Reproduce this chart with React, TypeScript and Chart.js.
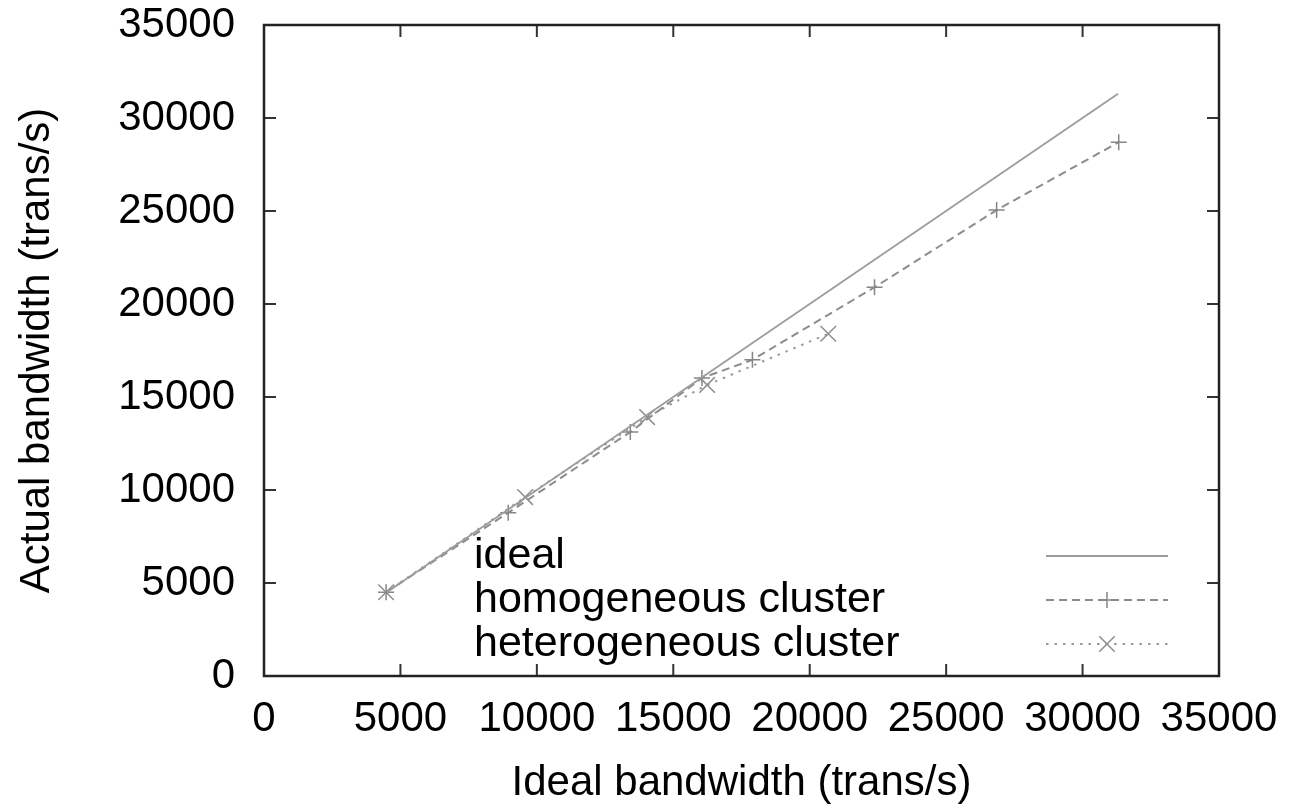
import React, { useEffect, useRef } from 'react';
import { Chart, registerables } from 'chart.js';

Chart.register(...registerables);

// ---- data ----
const idealX = [4500, 31300];
const idealY = [4500, 31300];
const homogeneousX = [4475, 8950, 13425, 16050, 17900, 22375, 26850, 31325];
const homogeneousY = [4500, 8780, 13120, 16020, 17000, 20900, 25050, 28700];
const heterogeneousX = [4475, 9570, 14040, 16240, 20680];
const heterogeneousY = [4500, 9620, 13920, 15650, 18400];
const seriesLabels = ['ideal', 'homogeneous cluster', 'heterogeneous cluster'];
const xTitle = 'Ideal bandwidth (trans/s)';
const yTitle = 'Actual bandwidth (trans/s)';
const axisMin = 0;
const axisMax = 35000;
const axisStep = 5000;

const FONT = '"Liberation Sans", Arial, Helvetica, sans-serif';

const toPoints = (xs: number[], ys: number[]) => xs.map((x, i) => ({ x, y: ys[i] }));

const framePlugin = {
  id: 'gnuFrame',
  afterDraw(chart: any) {
    const { ctx, chartArea: a, scales } = chart;
    const L = 12;
    ctx.save();
    ctx.strokeStyle = '#333';
    ctx.lineWidth = 2;
    ctx.beginPath();
    const xs = scales.x;
    const ys = scales.y;
    xs.ticks.forEach((t: any) => {
      if (t.value <= xs.min || t.value >= xs.max) return;
      const px = xs.getPixelForValue(t.value);
      ctx.moveTo(px, a.bottom);
      ctx.lineTo(px, a.bottom - L);
      ctx.moveTo(px, a.top);
      ctx.lineTo(px, a.top + L);
    });
    ys.ticks.forEach((t: any) => {
      if (t.value <= ys.min || t.value >= ys.max) return;
      const py = ys.getPixelForValue(t.value);
      ctx.moveTo(a.left, py);
      ctx.lineTo(a.left + L, py);
      ctx.moveTo(a.right, py);
      ctx.lineTo(a.right - L, py);
    });
    ctx.stroke();
    ctx.strokeStyle = '#222';
    ctx.lineWidth = 2.5;
    ctx.strokeRect(a.left, a.top, a.right - a.left, a.bottom - a.top);
    ctx.restore();
  },
};

const legendPlugin = {
  id: 'gnuLegend',
  afterDraw(chart: any, _args: any, opts: any) {
    const { ctx } = chart;
    ctx.save();
    chart.data.datasets.forEach((ds: any, i: number) => {
      const y = opts.y0 + i * opts.dy;
      ctx.font = `43px ${FONT}`;
      ctx.fillStyle = '#000';
      ctx.textBaseline = 'middle';
      ctx.textAlign = 'left';
      ctx.fillText(ds.label, opts.textX, y);
      ctx.strokeStyle = ds.borderColor;
      ctx.lineWidth = ds.borderWidth;
      ctx.setLineDash(ds.borderDash || []);
      ctx.beginPath();
      ctx.moveTo(opts.lineX0, y);
      ctx.lineTo(opts.lineX1, y);
      ctx.stroke();
      ctx.setLineDash([]);
      const r = ds.pointRadius || 0;
      if (r > 0) {
        const cx = (opts.lineX0 + opts.lineX1) / 2;
        ctx.strokeStyle = ds.pointBorderColor || ds.borderColor;
        ctx.lineWidth = ds.pointBorderWidth;
        ctx.beginPath();
        if (ds.pointStyle === 'cross') {
          ctx.moveTo(cx - r, y);
          ctx.lineTo(cx + r, y);
          ctx.moveTo(cx, y - r);
          ctx.lineTo(cx, y + r);
        } else {
          const d = r * Math.SQRT1_2;
          ctx.moveTo(cx - d, y - d);
          ctx.lineTo(cx + d, y + d);
          ctx.moveTo(cx - d, y + d);
          ctx.lineTo(cx + d, y - d);
        }
        ctx.stroke();
      }
    });
    ctx.restore();
  },
};

const zeroPadding = (s: any) => {
  s.paddingTop = 0;
  s.paddingBottom = 0;
  s.paddingLeft = 0;
  s.paddingRight = 0;
};

export default function App() {
  const ref = useRef<HTMLCanvasElement | null>(null);

  useEffect(() => {
    if (!ref.current) return;
    const tickFont = { family: FONT, size: 42, lineHeight: 1 };
    const titleFont = { family: FONT, size: 42, lineHeight: 1 };
    const plain = (v: any) => String(v);
    const chart = new Chart(ref.current, {
      type: 'scatter',
      data: {
        datasets: [
          {
            label: seriesLabels[0],
            data: toPoints(idealX, idealY),
            showLine: true,
            borderColor: '#9c9c9c',
            borderWidth: 1.8,
            pointRadius: 0,
            pointHoverRadius: 0,
          },
          {
            label: seriesLabels[1],
            data: toPoints(homogeneousX, homogeneousY),
            showLine: true,
            borderColor: '#8c8c8c',
            borderWidth: 2,
            borderDash: [8, 5],
            pointStyle: 'cross',
            pointRadius: 8,
            pointBorderWidth: 1.5,
            pointBorderColor: '#868686',
          },
          {
            label: seriesLabels[2],
            data: toPoints(heterogeneousX, heterogeneousY),
            showLine: true,
            borderColor: '#9a9a9a',
            borderWidth: 2,
            borderDash: [2.5, 6],
            pointStyle: 'crossRot',
            pointRadius: 11,
            pointBorderWidth: 1.5,
            pointBorderColor: '#8e8e8e',
          },
        ] as any,
      },
      options: {
        responsive: false,
        animation: false,
        events: [],
        layout: { padding: { left: 0, top: 25, right: 71, bottom: 0 } },
        plugins: {
          legend: { display: false },
          tooltip: { enabled: false },
          gnuLegend: { textX: 474, y0: 556, dy: 44, lineX0: 1046, lineX1: 1168 },
        } as any,
        scales: {
          x: {
            type: 'linear',
            min: axisMin,
            max: axisMax,
            ticks: { stepSize: axisStep, font: tickFont, color: '#000', padding: 22, maxRotation: 0, callback: plain },
            grid: { display: false, drawTicks: false, tickLength: 0 },
            border: { display: false },
            title: { display: true, text: xTitle, font: titleFont, color: '#000', padding: { top: 0, bottom: 4 } },
            afterFit: (s: any) => { s.height = 132; zeroPadding(s); },
          },
          y: {
            type: 'linear',
            min: axisMin,
            max: axisMax,
            ticks: { stepSize: axisStep, font: tickFont, color: '#000', padding: 29, callback: plain },
            grid: { display: false, drawTicks: false, tickLength: 0 },
            border: { display: false },
            title: { display: true, text: yTitle, font: titleFont, color: '#000', padding: { top: 16, bottom: 0 } },
            afterFit: (s: any) => { s.width = 264; zeroPadding(s); },
          },
        },
      },
      plugins: [framePlugin, legendPlugin],
    });
    return () => chart.destroy();
  }, []);

  return (
    <div style={{ position: 'fixed', left: 0, top: 0, width: 1290, height: 808, background: '#fff' }}>
      <canvas ref={ref} width={1290} height={808} style={{ display: 'block' }} />
    </div>
  );
}
